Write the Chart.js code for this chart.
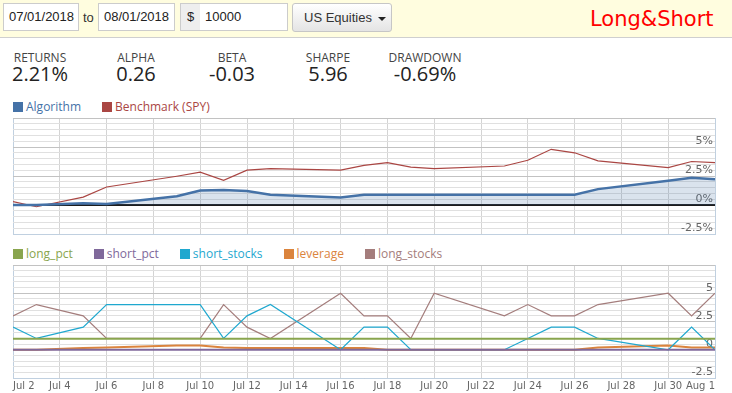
<!DOCTYPE html>
<html>
<head>
<meta charset="utf-8">
<script src="https://cdn.jsdelivr.net/npm/chart.js@4.4.1/dist/chart.umd.min.js"></script>
<style>
  html, body { margin: 0; padding: 0; width: 732px; height: 393px; overflow: hidden; background: #fff; }
  body { position: relative; font-family: "Open Sans", sans-serif; color: #222; }
  .topbar { position: absolute; left: 0; top: 0; width: 732px; height: 37px; background: #fffddf;
            border-bottom: 1px solid #cfcfcf; font-family: "Liberation Sans", Arial, sans-serif; font-size: 13px; color: #222; }
  .field { position: absolute; top: 3px; height: 28px; box-sizing: border-box; border: 1px solid #ccc;
           background: #fff; line-height: 26px; padding-left: 5px; }
  .addon { background: #eee; padding-left: 0; text-align: center; }
  .to { position: absolute; left: 83px; top: 4px; line-height: 28px; color: #333; }
  .btn { position: absolute; left: 292px; top: 3px; width: 100px; height: 29px; box-sizing: border-box;
         border: 1px solid #c6c6c6; border-radius: 3px; background: linear-gradient(#ffffff, #e4e4e4);
         line-height: 27px; padding-left: 11px; color: #333; }
  .caret { display: inline-block; width: 0; height: 0; margin-left: 6px; vertical-align: middle;
           border-left: 4px solid transparent; border-right: 4px solid transparent; border-top: 4px solid #222; }
  .title { position: absolute; left: 590px; top: 7px; font-family: "DejaVu Sans", sans-serif; font-size: 21px;
           line-height: 24px; color: #ff0000; }
  .stat { position: absolute; width: 100px; text-align: center; }
  .stat .lab { position: absolute; left: 0; width: 100px; top: 51.5px; font-size: 12px; line-height: 12px; color: #444; }
  .stat .val { position: absolute; left: 0; width: 100px; top: 64px; font-size: 20px; line-height: 20px; color: #222; }
  .legend { position: absolute; left: 13px; font-size: 12px; line-height: 12px; white-space: nowrap; }
  .legend span.item { display: inline-block; margin-right: 21px; }
  .legend span.box { display: inline-block; width: 10px; height: 10px; margin-right: 3px; vertical-align: -1px; }
  canvas { position: absolute; left: 0; }
</style>
</head>
<body>
<div class="topbar">
  <div class="field" style="left:3px;width:76px;">07/01/2018</div>
  <div class="to">to</div>
  <div class="field" style="left:98px;width:77px;">08/01/2018</div>
  <div class="field addon" style="left:180px;width:21px;">$</div>
  <div class="field" style="left:200px;width:88px;border-left:none;">10000</div>
  <div class="btn">US Equities<span class="caret"></span></div>
  <div class="title">Long&amp;Short</div>
</div>
<div id="stats"></div>
<div class="legend" id="legend1" style="top:101px;"></div>
<canvas id="perfChart" width="732" height="136" style="top:108px;"></canvas>
<div class="legend" id="legend2" style="top:247.5px;"></div>
<canvas id="posChart" width="732" height="139" style="top:255px;"></canvas>
<script>
// trading days, as day of July (32 = Aug 1)
const days = [2, 3, 5, 6, 9, 10, 11, 12, 13, 16, 17, 18, 19, 20, 23, 24, 25, 26, 27, 30, 31, 32];

// cumulative returns, %
const algorithm = [0, 0, 0.15, 0.09, 0.75, 1.25, 1.3, 1.2, 0.88, 0.64, 0.88, 0.88, 0.88, 0.88, 0.88, 0.88, 0.88, 0.88, 1.37, 2.1, 2.34, 2.21];
const benchmark = [0.29, -0.15, 0.68, 1.55, 2.48, 2.83, 2.13, 3.0, 3.13, 3.0, 3.42, 3.65, 3.27, 3.13, 3.36, 3.86, 4.8, 4.5, 3.8, 3.22, 3.75, 3.65];

// recorded variables
const longPct = [0.98, 0.98, 0.98, 0.98, 0.98, 0.98, 0.98, 0.98, 0.98, 0.98, 0.98, 0.98, 0.98, 0.98, 0.98, 0.98, 0.98, 0.98, 0.98, 0.98, 0.98, 0.98];
const shortPct = [0, 0, 0, 0, 0, 0, 0, 0, 0, 0, 0, 0, 0, 0, 0, 0, 0, 0, 0, 0, 0, 0];
const shortStocks = [2, 1, 2, 4, 4, 4, 1, 3, 4, 0, 2, 2, 0, 0, 0, 1, 2, 2, 1, 0, 2, 0];
const leverage = [0, 0, 0.15, 0.2, 0.37, 0.37, 0.2, 0.15, 0.15, 0.15, 0.15, 0, 0, 0, 0, 0, 0, 0, 0.2, 0.37, 0.2, 0.2];
const longStocks = [3, 4, 3, 1, 1, 1, 4, 2, 1, 5, 3, 3, 1, 5, 3, 4, 3, 3, 4, 5, 3, 5];

const statNames = ["RETURNS", "ALPHA", "BETA", "SHARPE", "DRAWDOWN"];
const statValues = ["2.21%", "0.26", "-0.03", "5.96", "-0.69%"];
const statCenters = [40, 136, 232, 328, 425];

const perfNames = ["Algorithm", "Benchmark (SPY)"];
const perfColors = ["#4572a7", "#aa4643"];
const posNames = ["long_pct", "short_pct", "short_stocks", "leverage", "long_stocks"];
const posColors = ["#89a54e", "#80699b", "#1fa8cf", "#db843d", "#a47d7c"];

// header stats
const stats = document.getElementById("stats");
statNames.forEach((name, i) => {
  const d = document.createElement("div");
  d.className = "stat";
  d.style.left = (statCenters[i] - 50) + "px";
  d.innerHTML = '<div class="lab">' + name + '</div><div class="val">' + statValues[i] + '</div>';
  stats.appendChild(d);
});

function fillLegend(id, names, colors) {
  const el = document.getElementById(id);
  names.forEach((n, i) => {
    el.innerHTML += '<span class="item"><span class="box" style="background:' + colors[i] + '"></span>' +
      '<span style="color:' + colors[i] + '">' + n + '</span></span>';
  });
}
fillLegend("legend1", perfNames, perfColors);
fillLegend("legend2", posNames, posColors);

function pts(vals) {
  return days.map((d, i) => ({ x: d, y: vals[i] }));
}

function dayLabel(v) {
  return v <= 31 ? "Jul " + v : "Aug " + (v - 31);
}

function isMajor(v) {
  return Math.abs(Math.round(v / 2.5) * 2.5 - v) < 1e-6;
}

function scales(suffix, boldZero, showX) {
  return {
    x: {
      type: "linear",
      min: 2,
      max: 32,
      ticks: {
        display: showX,
        stepSize: 2,
        autoSkip: false,
        maxRotation: 0,
        align: "inner",
        padding: 2,
        color: "#666",
        font: { family: "DejaVu Sans", size: 10 },
        callback: dayLabel,
      },
      grid: {
        drawTicks: false,
        color: (ctx) => (ctx.tick && ctx.tick.value === 2 ? "#c0d0e0" : "#d4d4d4"),
      },
      border: { color: "#c0d0e0" },
    },
    y: {
      position: "right",
      min: -2.5,
      max: 7.5,
      ticks: {
        stepSize: 0.5,
        autoSkip: false,
        mirror: true,
        padding: -2,
        labelOffset: -5.5,
        color: "#666",
        font: { family: "DejaVu Sans", size: 11 },
        callback: (v) => (isMajor(v) && v < 7.4 ? String(v) + suffix : ""),
      },
      grid: {
        drawTicks: false,
        color: (ctx) => {
          const v = ctx.tick.value;
          if (boldZero && Math.abs(v) < 1e-6) return "#1c1c1c";
          return isMajor(v) ? "#c2c2c2" : "#e0e0e0";
        },
        lineWidth: (ctx) => (boldZero && Math.abs(ctx.tick.value) < 1e-6 ? 2 : 1),
      },
      border: { color: "#c0d0e0" },
    },
  };
}

const common = {
  responsive: false,
  animation: false,
  plugins: { legend: { display: false }, tooltip: { enabled: false } },
  elements: { point: { radius: 0 }, line: { tension: 0 } },
};

new Chart(document.getElementById("perfChart"), {
  type: "line",
  data: {
    datasets: [
      {
        label: perfNames[0],
        data: pts(algorithm),
        borderColor: perfColors[0],
        backgroundColor: "rgba(69,114,167,0.2)",
        borderWidth: 2.5,
        fill: "origin",
      },
      {
        label: perfNames[1],
        data: pts(benchmark),
        borderColor: perfColors[1],
        borderWidth: 1.2,
        fill: false,
      },
    ],
  },
  options: Object.assign({}, common, {
    layout: { padding: { left: 13, right: 17, top: 10, bottom: 10 } },
    scales: scales("%", true, false),
  }),
});

const posSeries = [longPct, shortPct, shortStocks, leverage, longStocks];
const posWidths = [2, 2, 1.2, 2, 1.2];

new Chart(document.getElementById("posChart"), {
  type: "line",
  data: {
    datasets: posSeries.map((s, i) => ({
      label: posNames[i],
      data: pts(s),
      borderColor: posColors[i],
      borderWidth: posWidths[i],
      fill: false,
    })),
  },
  options: Object.assign({}, common, {
    layout: { padding: { left: 13, right: 17, top: 10, bottom: 0 } },
    scales: scales("", false, true),
  }),
});
</script>
</body>
</html>
